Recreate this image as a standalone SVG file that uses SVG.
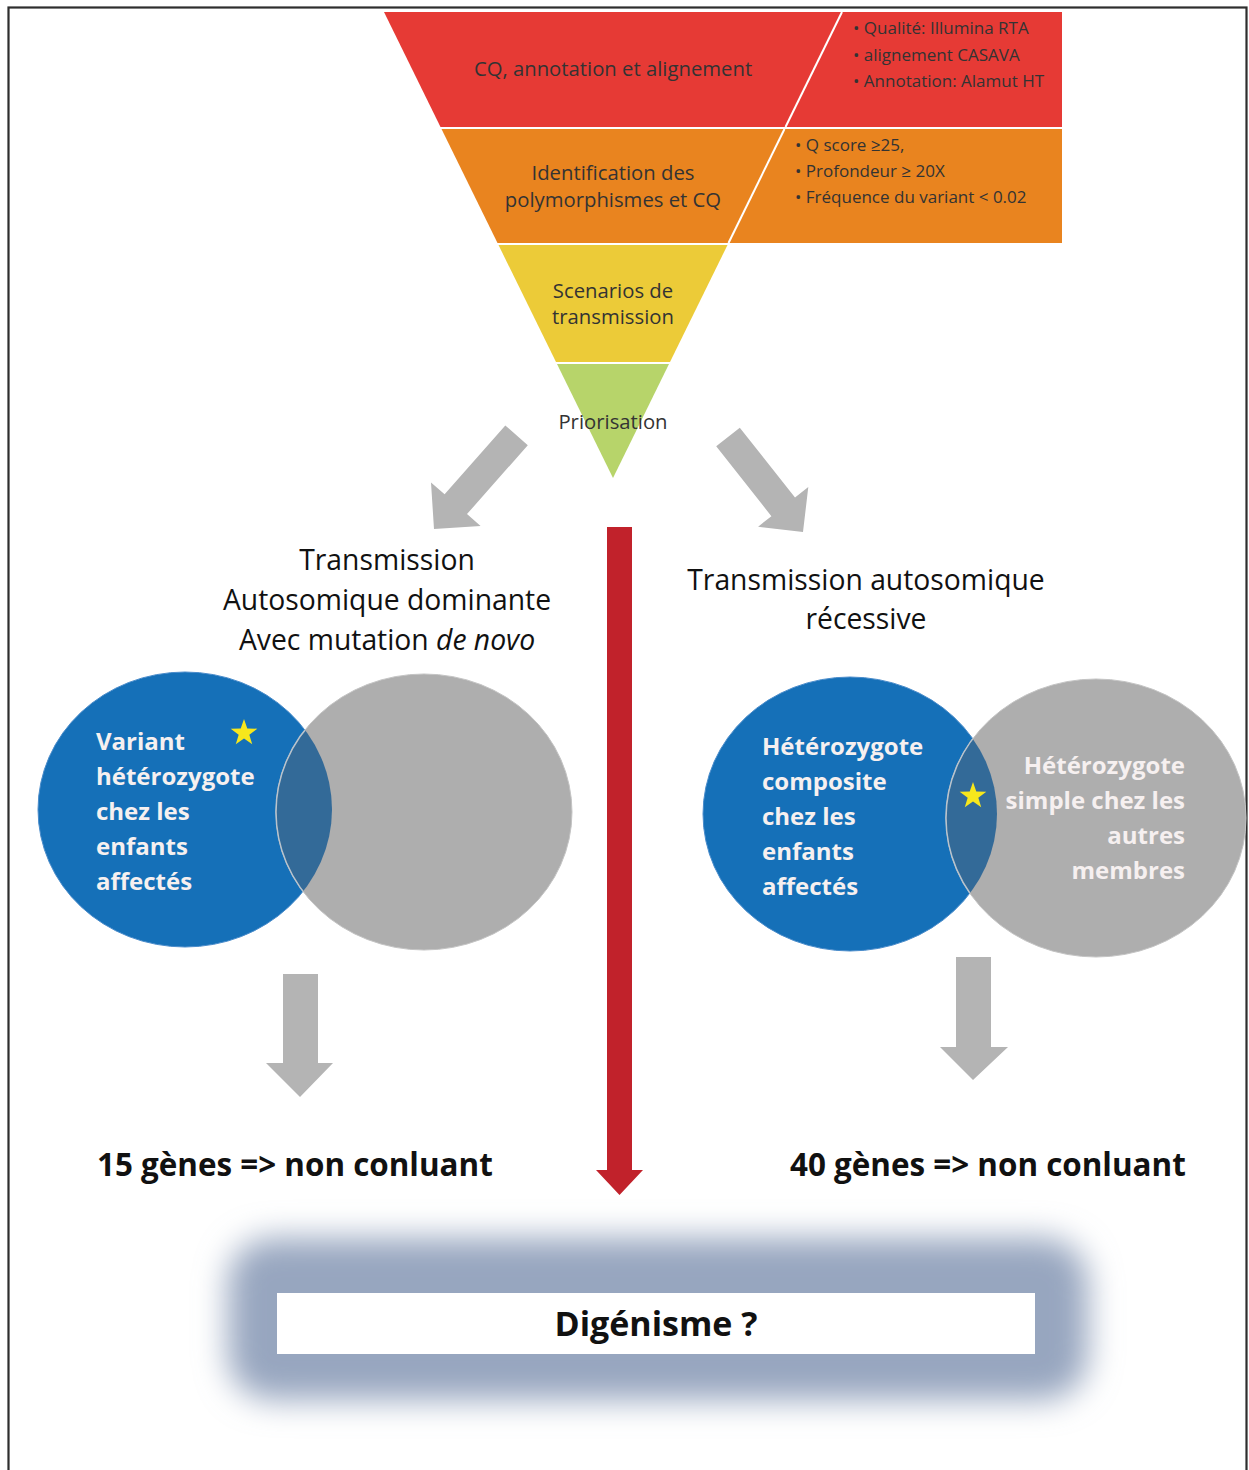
<svg xmlns="http://www.w3.org/2000/svg" width="1249" height="1470" viewBox="0 0 1249 1470">
<style>
.t{font-family:"Open Sans","Liberation Sans",sans-serif;fill:#333;}
.fun{font-size:20.3px;text-anchor:middle;}
.bul{font-size:17px;}
.title{font-size:28.3px;fill:#111;text-anchor:middle;}
.vin{font-family:"Open Sans","Liberation Sans",sans-serif;font-weight:bold;font-size:24px;fill:#F6F0F0;}
.res{font-family:"Open Sans","Liberation Sans",sans-serif;font-weight:bold;font-size:31.4px;fill:#111;}
.gray{fill:#B4B4B4;}
.sep{stroke:#FFFFFF;stroke-width:2;}
</style>
<defs>
<path id="star" d="M0,-14 L3.29,-4.53 L13.31,-4.33 L5.33,1.73 L8.23,11.33 L0,5.6 L-8.23,11.33 L-5.33,1.73 L-13.31,-4.33 L-3.29,-4.53 Z" fill="#F7E71C"/>
<filter id="glow" x="-20%" y="-50%" width="140%" height="200%">
<feGaussianBlur stdDeviation="16"/>
</filter>
<clipPath id="clipL"><ellipse cx="185" cy="809.5" rx="147" ry="137.5"/></clipPath>
<clipPath id="clipR"><ellipse cx="850" cy="814" rx="147" ry="137"/></clipPath>
</defs>
<rect width="1249" height="1470" fill="#FFFFFF"/>
<rect id="frame" x="8.5" y="7.5" width="1238" height="1490" fill="none" stroke="#2E2E2E" stroke-width="2.2"/>

<g id="funnel-qc">
<polygon points="384,12 1062,12 1062,127 440.5,127" fill="#E63A35"/>
<line class="sep" x1="842" y1="12" x2="785.5" y2="127" stroke-width="1.5"/>
<text class="t fun" x="613" y="76">CQ, annotation et alignement</text>
<text class="t bul" x="853" y="34">• Qualité: Illumina RTA</text>
<text class="t bul" x="853" y="61">• alignement CASAVA</text>
<text class="t bul" x="853" y="87">• Annotation: Alamut HT</text>
</g>
<g id="funnel-identification">
<polygon points="441.5,129 1062,129 1062,243 497.5,243" fill="#E9841F"/>
<line class="sep" x1="784.5" y1="129" x2="728.5" y2="243" stroke-width="1.5"/>
<text class="t fun" x="613" y="180">Identification des</text>
<text class="t fun" x="613" y="207">polymorphismes et CQ</text>
<text class="t bul" x="795" y="151">• Q score ≥25,</text>
<text class="t bul" x="795" y="177">• Profondeur ≥ 20X</text>
<text class="t bul" x="795" y="203">• Fréquence du variant &lt; 0.02</text>
</g>
<g id="funnel-scenarios">
<polygon points="498.5,245 727.5,245 670,362 556,362" fill="#ECCB38"/>
<text class="t fun" x="613" y="298">Scenarios de</text>
<text class="t fun" x="613" y="324">transmission</text>
</g>
<g id="funnel-priorisation">
<polygon points="557,364 669,364 613,478" fill="#B7D46A"/>
<text class="t fun" x="613" y="429">Priorisation</text>
</g>

<g id="connectors">
<polygon class="gray" points="434,529 480.6,526 467,514.1 527.8,445.2 505.3,425.4 444.6,494.3 431,482.4"/>
<polygon class="gray" points="803,532 808.3,487.1 795,497.6 739.8,427.7 716.2,446.3 771.4,516.2 758.1,526.7"/>
<polygon fill="#C1222B" points="607,527 632,527 632,1170 643,1170 619.5,1195 596,1170 607,1170"/>
<polygon class="gray" points="283,974 318,974 318,1063 333,1063 300,1097 266,1063 283,1063"/>
<polygon class="gray" points="956,957 991,957 991,1047 1008,1047 973,1080 940,1047 956,1047"/>
</g>

<g id="title-dominante">
<text class="t title" x="387" y="570">Transmission</text>
<text class="t title" x="387" y="610">Autosomique  dominante</text>
<text class="t title" x="387" y="650">Avec mutation <tspan font-style="italic">de novo</tspan></text>
</g>
<g id="title-recessive">
<text class="t title" x="866" y="590">Transmission autosomique</text>
<text class="t title" x="866" y="629">récessive</text>
</g>

<g id="venn-left">
<ellipse cx="185" cy="809.5" rx="147" ry="137.5" fill="#1570B8" stroke="#4A8CCB" stroke-width="1"/>
<ellipse cx="424" cy="812" rx="148" ry="138" fill="#AEAEAE" stroke="#C4C4C4" stroke-width="1"/>
<ellipse cx="424" cy="812" rx="148" ry="138" fill="#336A98" clip-path="url(#clipL)" stroke="#B9C3CC" stroke-width="1.5"/>
<text class="vin" x="96" y="750">Variant</text>
<text class="vin" x="96" y="785">hétérozygote</text>
<text class="vin" x="96" y="820">chez les</text>
<text class="vin" x="96" y="855">enfants</text>
<text class="vin" x="96" y="890">affectés</text>
<use href="#star" x="244" y="733"/>
</g>

<g id="venn-right">
<ellipse cx="850" cy="814" rx="147" ry="137" fill="#1570B8" stroke="#4A8CCB" stroke-width="1"/>
<ellipse cx="1096" cy="818" rx="150" ry="139" fill="#AEAEAE" stroke="#C4C4C4" stroke-width="1"/>
<ellipse cx="1096" cy="818" rx="150" ry="139" fill="#336A98" clip-path="url(#clipR)" stroke="#B9C3CC" stroke-width="1.5"/>
<text class="vin" x="762" y="755">Hétérozygote</text>
<text class="vin" x="762" y="790">composite</text>
<text class="vin" x="762" y="825">chez les</text>
<text class="vin" x="762" y="860">enfants</text>
<text class="vin" x="762" y="895">affectés</text>
<text class="vin" x="1185" y="774" text-anchor="end">Hétérozygote</text>
<text class="vin" x="1185" y="809" text-anchor="end">simple chez les</text>
<text class="vin" x="1185" y="844" text-anchor="end">autres</text>
<text class="vin" x="1185" y="879" text-anchor="end">membres</text>
<use href="#star" x="973" y="796"/>
</g>

<g id="result-left">
<text class="res" x="97" y="1176">15 gènes =&gt; non conluant</text>
</g>
<g id="result-right">
<text class="res" x="790" y="1176">40 gènes =&gt; non conluant</text>
</g>

<g id="digenisme">
<rect x="228" y="1238" width="860" height="162" rx="45" fill="#97A6BF" filter="url(#glow)"/>
<rect x="277" y="1293" width="758" height="61" fill="#FFFFFF"/>
<text x="656" y="1336" text-anchor="middle" font-family="Open Sans, Liberation Sans, sans-serif" font-weight="bold" font-size="34" fill="#111">Digénisme ?</text>
</g>
</svg>
